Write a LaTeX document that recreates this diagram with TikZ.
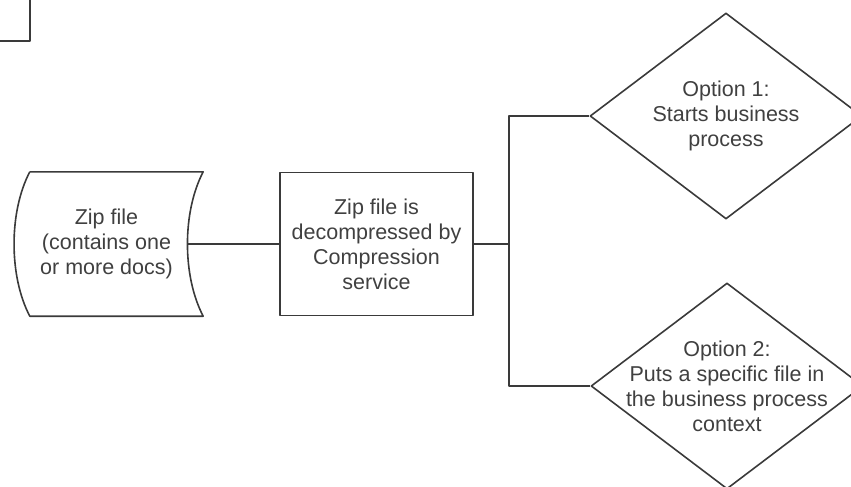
\documentclass[tikz,border=0pt]{standalone}
\usepackage{fontspec}
\setmainfont{Liberation Sans}
\usepackage{xcolor}
\usetikzlibrary{calc}
\usetikzlibrary{shapes.geometric}
\definecolor{edge}{HTML}{3A3A3A}
\definecolor{ink}{HTML}{404040}
\tikzset{line/.style = {draw=edge, line width=1.6pt, line join=round}}
\tikzset{txt/.style = {text=ink, align=center, inner sep=0pt, font=\fontsize{21.5}{25}\selectfont}}
\tikzset{procbox/.style = {line, txt, rectangle, minimum width=193pt, minimum height=143pt}}
\tikzset{optbox/.style = {line, diamond, minimum width=272pt, minimum height=206pt, inner sep=0pt}}

\begin{document}
\begin{tikzpicture} [x=1pt,y=-1pt]
\useasboundingbox (0,0) rectangle (851,487);
\clip (0,0) rectangle (851,487);
\node[procbox, minimum width=120pt, minimum height=90pt, anchor=south east] (prev) at (31,42) {};
\node[minimum width=173pt, minimum height=144pt, inner sep=0pt,
  label={[txt, xshift=-10pt]center:{Zip file\\(contains one\\or more docs)}}] (zip) at (116.5,244) {};
\draw[line] (zip.north west) -- (zip.north east)
  .. controls ++(-21,40) and ++(-21,-40) .. (zip.south east) -- (zip.south west)
  .. controls ++(-21,-40) and ++(-21,40) .. (zip.north west);
\coordinate (zipout) at ($(zip.east)+(-16,0)$);
\node[procbox] (unzip) at (376.5,244) {Zip file is\\decompressed by\\Compression\\service};
\coordinate (jn) at (509,244);
\node[optbox, label={[txt]center:{Option 1:\\Starts business\\process}}] (opt1) at (726,116) {};
\node[optbox, label={[txt]center:{Option 2:\\Puts a specific file in\\the business process\\context}}] (opt2) at (727,386) {};
\draw[line] (zipout) -- (unzip.west);
\draw[line, line width=2.6pt] (unzip.east) -- (jn);
\draw[line] (opt1.west) -| (jn) |- (opt2.west);
\end{tikzpicture}
\end{document}
